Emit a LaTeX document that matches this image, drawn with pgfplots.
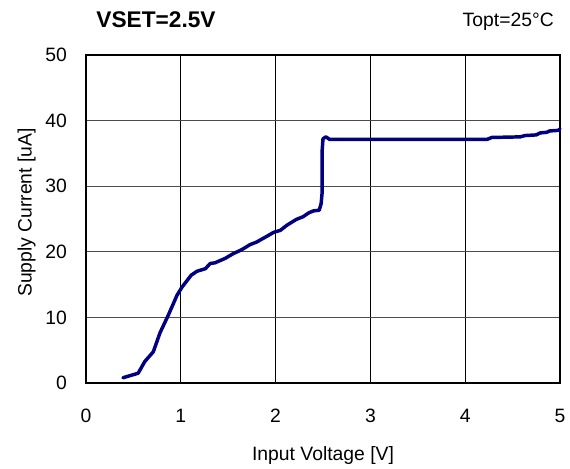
\documentclass[border=0pt]{standalone}
\usepackage{fontspec}
\setmainfont{Liberation Sans}
\usepackage{pgfplots}
\pgfplotsset{compat=1.18}
\definecolor{navyline}{RGB}{0,0,128}
\begin{document}
\begin{tikzpicture}[x=0.75pt,y=0.75pt]
\begin{axis}[
  scale only axis,
  width=355.5pt, height=246pt,
  xmin=0, xmax=5, ymin=0, ymax=50,
  xtick={0,1,2,3,4,5}, ytick={0,10,20,30,40,50},
  grid=major,
  x grid style={black, line width=0.75pt},
  y grid style={black!70, line width=0.75pt},
  axis line style={black, line width=1pt},
  major tick length=0pt,
  /pgf/number format/assume math mode=true,
  ticklabel style={font=\fontsize{14.5}{17}\selectfont},
  xticklabel style={yshift=-16pt},
  yticklabel style={xshift=-10.75pt},
  label style={font=\fontsize{14.5}{17}\selectfont},
  xlabel={Input Voltage [V]},
  ylabel={Supply Current [uA]},
  xlabel style={at={(axis description cs:0.5,0)}, anchor=base, yshift=-57.75pt},
  ylabel style={at={(axis description cs:0,0.52)}, anchor=base, rotate=0, yshift=40.7pt},
  clip=false,
]
\coordinate (bl) at (rel axis cs:0,0);
\addplot[navyline, line width=2.6pt, line join=round, line cap=round] coordinates {
(0.39,0.8) (0.55,1.49) (0.62,3.27) (0.71,4.76) (0.78,7.63) (0.87,10.4) (0.96,13.37)
(1.01,14.56) (1.11,16.44) (1.17,17.03) (1.26,17.43) (1.31,18.22) (1.36,18.32)
(1.47,19.01) (1.55,19.7) (1.64,20.3) (1.73,21.09) (1.80,21.49) (1.91,22.38)
(1.98,22.97) (2.05,23.27) (2.12,24.06) (2.22,24.95) (2.29,25.35) (2.35,25.94)
(2.40,26.24) (2.46,26.34) (2.48,27.33) (2.49,28.91) (2.49,32.97) (2.49,35.25)
(2.50,37.23) (2.53,37.52) (2.57,37.13) (4.23,37.13) (4.28,37.43) (4.58,37.52)
(4.63,37.72) (4.75,37.82) (4.79,38.12) (4.86,38.22) (4.89,38.42) (4.98,38.51) (5.0,38.71)
};
\end{axis}
\path (bl) ++(70,355) node[anchor=base, inner sep=0pt, font=\bfseries\fontsize{17}{20}\selectfont] {VSET=2.5V};
\path (bl) ++(468,356.3) node[anchor=base east, inner sep=0pt, font=\fontsize{14.5}{17}\selectfont] {Topt=25°C};
\path[use as bounding box] (bl) ++(-86,-85) rectangle ++(570,468);
\end{tikzpicture}
\end{document}
